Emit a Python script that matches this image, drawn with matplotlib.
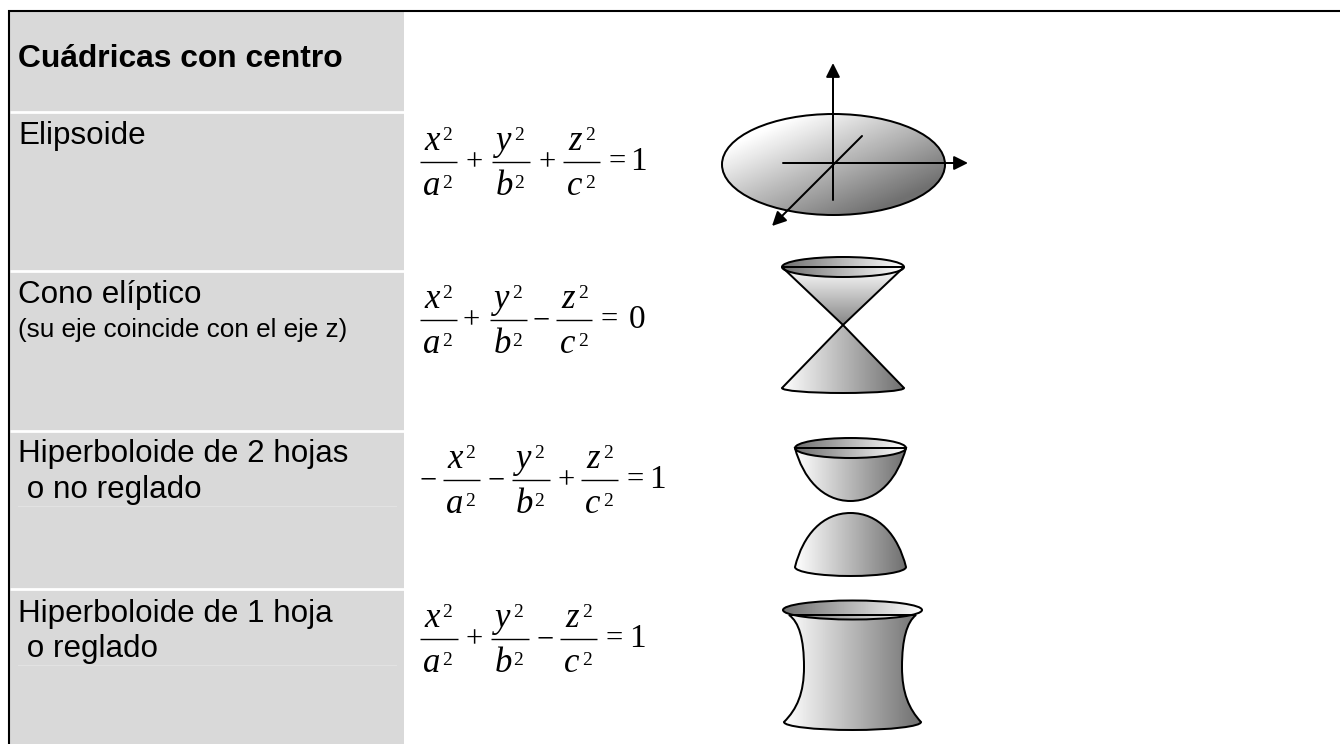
import numpy as np
import matplotlib
matplotlib.use('Agg')
import matplotlib.pyplot as plt
from matplotlib.colors import LinearSegmentedColormap
from matplotlib.patches import Ellipse, PathPatch, Rectangle
from matplotlib.path import Path

# row labels, y is the text baseline
title = 'Cuádricas con centro'
row_names = ['Elipsoide', 'Cono elíptico', 'Hiperboloide de 2 hojas', 'Hiperboloide de 1 hoja']
row_name_y = [144, 303, 462, 622]
row_subs = ['(su eje coincide con el eje z)', ' o no reglado', ' o reglado']
row_sub_y = [337, 498, 657]
white_lines = [112, 271, 431, 589]
faint_lines = [506, 665]

# equations: bar y, signs with their centre x, fraction bars, right hand side
eq_y = [162, 320, 480, 639]
eq_lead = [None, None, '\u2212', None]
eq_lead_x = [None, None, 428, None]
eq_signs = [['+', '+'], ['+', '\u2212'], ['\u2212', '+'], ['+', '\u2212']]
eq_sign_x = [[474, 547], [471, 541], [496, 566], [474, 545]]
eq_bars = [[(420, 457), (492, 530), (563, 600)],
           [(420, 457), (490, 527), (556, 592)],
           [(443, 480), (512, 550), (581, 618)],
           [(420, 458), (491, 529), (560, 597)]]
eq_eq_x = [617, 609, 635, 614]
eq_rhs = ['1', '0', '1', '1']
eq_rhs_x = [638, 637, 657, 637]
nums = ['x', 'y', 'z']
dens = ['a', 'b', 'c']

# ellipsoid
ell_center = (833.5, 164.5)
ell_size = (223, 101)
axis_z = ((833, 200), (833, 63))
axis_y = ((783, 163), (968, 163))
axis_x = ((862, 136), (772, 226))

# cone
cone_top = (843, 267, 122, 20)
cone_apex = (843, 325)
cone_bottom = (782, 904, 388, 393)

# two sheet hyperboloid
bowl_top = (850.5, 448, 111, 20)
bowl_low = 501
dome_high = 513
dome_ends = (795, 906, 567, 576)

# one sheet hyperboloid
neck_top = (852.5, 610, 139, 19)
neck_waist = (804, 902, 667)
neck_ends = (784, 921, 722, 730)

plt.rcParams['font.family'] = ['Liberation Sans', 'DejaVu Sans']
fig = plt.figure(figsize=(13.4, 7.44), dpi=100)
ax = fig.add_axes([0, 0, 1, 1])

to_white = LinearSegmentedColormap.from_list('tw', ['#707070', '#ffffff'])
from_white = LinearSegmentedColormap.from_list('fw', ['#ffffff', '#707070'])
EDGE = 2.0 * 72 / 100


def shade(patch, cmap, mode='x'):
    x0, y0, x1, y1 = patch.get_path().transformed(patch.get_patch_transform()).get_extents().extents
    u, v = np.meshgrid(np.linspace(0, 1, 200), np.linspace(0, 1, 200))
    if mode == 'diag':
        g = (u + v - 0.35) / 1.3
    elif mode == 'y':
        g = v * 0.85
    else:
        g = u
    im = ax.imshow(g, extent=(x0, x1, y1, y0), origin='upper', cmap=cmap, vmin=0, vmax=1, aspect='auto', zorder=2)
    patch.set_facecolor('none')
    patch.set_edgecolor('black')
    patch.set_linewidth(EDGE)
    patch.set_zorder(3)
    ax.add_patch(patch)
    im.set_clip_path(patch)


def ellipse_arc(cx, cy, w, h):
    # lower half of an ellipse, from left to right, as a bezier
    k = 0.5523
    a, b = w / 2, h / 2
    return [(cx - a, cy), (cx - a, cy + k * b), (cx - k * a, cy + b), (cx, cy + b),
            (cx + k * a, cy + b), (cx + a, cy + k * b), (cx + a, cy)]


def curve(points, close=True):
    # points run start, then three per bezier segment
    codes = [Path.MOVETO] + [Path.CURVE4] * (len(points) - 1)
    if close:
        points = points + [points[0]]
        codes = codes + [Path.CLOSEPOLY]
    return PathPatch(Path(points, codes))


def arrow(start, end):
    ax.annotate('', xy=end, xytext=start, zorder=4,
                arrowprops=dict(arrowstyle='-|>,head_length=0.6,head_width=0.3', color='black',
                                lw=EDGE, shrinkA=0, shrinkB=0, mutation_scale=14))


# frame and grey column
ax.add_patch(Rectangle((10, 11), 394, 733, facecolor='#d9d9d9', edgecolor='none', zorder=0))
for y in white_lines:
    ax.plot([10, 404], [y, y], color='white', lw=2, zorder=1, solid_capstyle='butt')
for y in faint_lines:
    ax.plot([18, 396], [y, y], color='#e2e2e2', lw=0.8, zorder=1)
ax.plot([9, 9, 1340], [744, 10.5, 10.5], color='black', lw=1.5, zorder=5, solid_joinstyle='miter')

ax.text(18, 67, title, fontsize=22.9, fontweight='bold', va='baseline', color='black')
for name, y in zip(row_names, row_name_y):
    ax.text(18, y, name, fontsize=22.6, va='baseline', color='black')
ax.text(18, row_sub_y[0], row_subs[0], fontsize=18.8, va='baseline', color='black')
for sub, y in zip(row_subs[1:], row_sub_y[1:]):
    ax.text(18, y, sub, fontsize=22.6, va='baseline', color='black')

# equations
serif = dict(family='Liberation Serif', color='black')
for i, y in enumerate(eq_y):
    if eq_lead[i]:
        ax.text(eq_lead_x[i], y + 8, eq_lead[i], fontsize=22, ha='center', va='baseline', **serif)
    for (x0, x1), n, d in zip(eq_bars[i], nums, dens):
        ax.plot([x0, x1], [y, y], color='black', lw=1, solid_capstyle='butt')
        ax.text(x0 + 12, y - 12, n, fontsize=25, style='italic', ha='center', va='baseline', **serif)
        ax.text(x0 + 27, y - 22, '2', fontsize=14, ha='center', va='baseline', **serif)
        ax.text(x0 + 12, y + 33, d, fontsize=25, style='italic', ha='center', va='baseline', **serif)
        ax.text(x0 + 27, y + 26, '2', fontsize=14, ha='center', va='baseline', **serif)
    for s, x in zip(eq_signs[i], eq_sign_x[i]):
        ax.text(x, y + 8, s, fontsize=22, ha='center', va='baseline', **serif)
    ax.text(eq_eq_x[i], y + 8, '=', fontsize=22, ha='center', va='baseline', **serif)
    ax.text(eq_rhs_x[i], y + 8, eq_rhs[i], fontsize=24, ha='center', va='baseline', **serif)

# ellipsoid
shade(Ellipse(ell_center, ell_size[0], ell_size[1]), from_white, mode='diag')
arrow(*axis_z)
arrow(*axis_y)
arrow(*axis_x)

# cone
cx, cy, cw, ch = cone_top
left, right, end_y, end_low = cone_bottom
shade(PathPatch(Path([(cx - cw / 2, cy), cone_apex, (cx + cw / 2, cy), (cx - cw / 2, cy)],
                     [Path.MOVETO, Path.LINETO, Path.LINETO, Path.CLOSEPOLY])), from_white, mode='y')
shade(Ellipse((cx, cy), cw, ch), to_white)
arc = ellipse_arc((left + right) / 2, end_y, right - left, 2 * (end_low - end_y))
shade(curve([cone_apex, (left, end_y), (left, end_y), (left, end_y)] + arc[1:] +
            [(right, end_y), (right, end_y), cone_apex]), from_white)

# two sheet hyperboloid
cx, cy, cw, ch = bowl_top
l, r = cx - cw / 2, cx + cw / 2
shade(curve([(l, cy), (l + 8, cy + 30), (cx - 28, bowl_low), (cx, bowl_low),
             (cx + 28, bowl_low), (r - 8, cy + 30), (r, cy)]), from_white)
shade(Ellipse((cx, cy), cw, ch), to_white)
left, right, end_y, end_low = dome_ends
arc = ellipse_arc((left + right) / 2, end_y, right - left, 2 * (end_low - end_y))
shade(curve([(left, end_y), (left + 8, end_y - 32), (cx - 28, dome_high), (cx, dome_high),
             (cx + 28, dome_high), (right - 8, end_y - 32), (right, end_y)] + arc[::-1][1:]), from_white)

# one sheet hyperboloid
cx, cy, cw, ch = neck_top
wl, wr, wy = neck_waist
left, right, end_y, end_low = neck_ends
arc = ellipse_arc((left + right) / 2, end_y, right - left, 2 * (end_low - end_y))
shade(curve([(cx - cw / 2 + 6, cy + 5), (wl - 5, cy + 12), (wl, wy - 28), (wl, wy),
             (wl, wy + 26), (wl - 7, end_y - 13), (left, end_y)] + arc[1:] +
            [(wr + 7, end_y - 13), (wr, wy + 26), (wr, wy),
             (wr, wy - 28), (wr + 5, cy + 12), (cx + cw / 2 - 6, cy + 5)]), from_white)
shade(Ellipse((cx, cy), cw, ch), to_white)

ax.set_xlim(0, 1340)
ax.set_ylim(744, 0)
ax.axis('off')
fig.savefig('out.png', dpi=100, facecolor='white')
